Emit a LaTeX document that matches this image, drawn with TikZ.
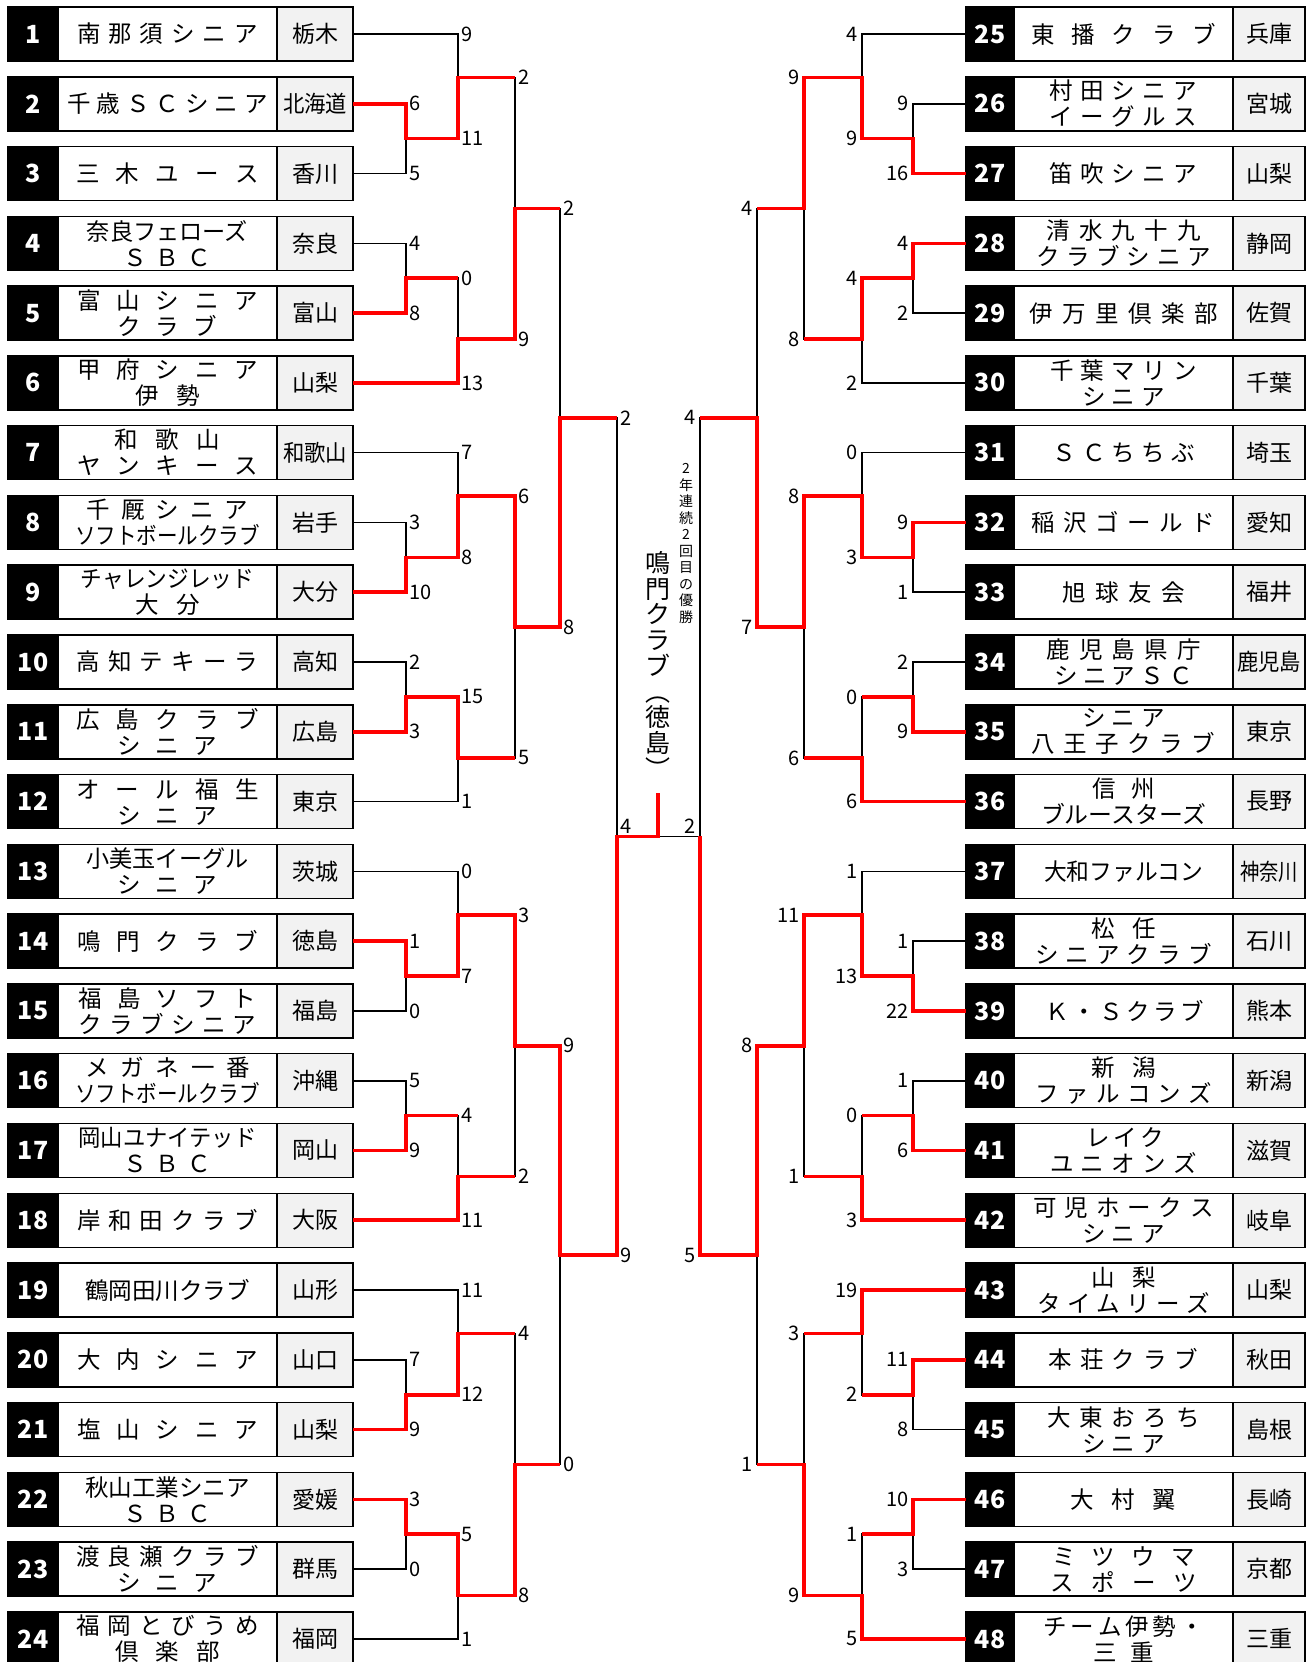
\documentclass[tikz,border=0pt]{standalone}
\usepackage{fontspec}
\usepackage{graphicx}
\setmainfont{Noto Sans CJK JP}
\usetikzlibrary{positioning}

\newcommand{\spread}[2]{\makebox[#1pt][s]{#2}}
\newcommand{\tight}[2]{\resizebox{#1pt}{\height}{#2}}

\tikzset{
  numbox/.style={draw, fill=black, text=white, minimum width=50pt, minimum height=54pt,
    inner sep=0pt, outer sep=0pt, line width=1.5pt, font=\fontsize{25}{25}\selectfont\bfseries},
  namebox/.style={draw, fill=white, minimum width=219pt, minimum height=54pt,
    inner sep=0pt, outer sep=0pt, line width=1.5pt, align=center,
    font=\fontsize{23.5}{26}\selectfont},
  prefbox/.style={draw, fill=black!5, minimum width=76pt, minimum height=54pt,
    inner sep=0pt, outer sep=0pt, line width=1.5pt, font=\fontsize{23}{23}\selectfont},
  wire/.style={line width=1.6pt},
  win/.style={red, line width=3.6pt},
  scL/.style={anchor=west, inner sep=0pt, xshift=3pt, font=\fontsize{20}{20}\selectfont},
  scR/.style={anchor=east, inner sep=0pt, xshift=-4pt, font=\fontsize{20}{20}\selectfont},
  sc/.style={scL}
}

\newcommand{\teamL}[3]{%
  \node[namebox] (n#1) at (167.5,#1) {#2};
  \node[numbox, left=0pt of n#1] (k#1) {#1};
  \node[prefbox, right=0pt of n#1] (p#1) {#3};}
\newcommand{\teamR}[3]{%
  \node[namebox] (n#1) at (1123.5,{#1-24}) {#2};
  \node[numbox, minimum width=48pt, left=0pt of n#1] (k#1) {#1};
  \node[prefbox, minimum width=72pt, right=0pt of n#1] (p#1) {#3};}
% one match: top in, bottom in, out, x, row, scores
\newcommand{\game}[7]{%
  \coordinate (#3) at (#4,#5);
  \draw[wire] (#1) -- (#1 -| #3) -- (#2 -| #3) -- (#2);
  \node[sc] at (#1 -| #3) {#6};
  \node[sc] at (#2 -| #3) {#7};}

\begin{document}
\begin{tikzpicture}[x=1pt, y=-69.78pt]
\useasboundingbox (0,0.51275) rectangle (1314,24.3305);

\teamL{1}{\spread{181}{南 那 須 シ ニ ア}}{栃木}
\teamL{2}{\spread{201}{千 歳 Ｓ Ｃ シ ニ ア}}{\tight{64}{北海道}}
\teamL{3}{\spread{183}{三 木 ユ ー ス}}{香川}
\teamL{4}{\tight{161}{奈良フェローズ}\\\spread{88}{Ｓ Ｂ Ｃ}}{奈良}
\teamL{5}{\spread{181}{富 山 シ ニ ア}\\\spread{100}{ク ラ ブ}}{富山}
\teamL{6}{\spread{181}{甲 府 シ ニ ア}\\\spread{65}{伊 勢}}{山梨}
\teamL{7}{\spread{106}{和 歌 山}\\\spread{181}{ヤ ン キ ー ス}}{\tight{64}{和歌山}}
\teamL{8}{\spread{162}{千 厩 シ ニ ア}\\\tight{185}{ソフトボールクラブ}}{岩手}
\teamL{9}{\tight{173}{チャレンジレッド}\\\spread{65}{大 分}}{大分}
\teamL{10}{\spread{182}{高 知 テ キ ー ラ}}{高知}
\teamL{11}{\spread{183}{広 島 ク ラ ブ}\\\spread{100}{シ ニ ア}}{広島}
\teamL{12}{\spread{183}{オ ー ル 福 生}\\\spread{100}{シ ニ ア}}{東京}
\teamL{13}{\tight{162}{小美玉イーグル}\\\spread{100}{シ ニ ア}}{茨城}
\teamL{14}{\spread{181}{鳴 門 ク ラ ブ}}{徳島}
\teamL{15}{\spread{178}{福 島 ソ フ ト}\\\spread{178}{ク ラ ブ シ ニ ア}}{福島}
\teamL{16}{\spread{165}{メ ガ ネ 一 番}\\\tight{185}{ソフトボールクラブ}}{沖縄}
\teamL{17}{\tight{178}{岡山ユナイテッド}\\\spread{88}{Ｓ Ｂ Ｃ}}{岡山}
\teamL{18}{\spread{181}{岸 和 田 ク ラ ブ}}{大阪}
\teamL{19}{\tight{165}{鶴岡田川クラブ}}{山形}
\teamL{20}{\spread{181}{大 内 シ ニ ア}}{山口}
\teamL{21}{\spread{181}{塩 山 シ ニ ア}}{山梨}
\teamL{22}{\tight{165}{秋山工業シニア}\\\spread{88}{Ｓ Ｂ Ｃ}}{愛媛}
\teamL{23}{\spread{183}{渡 良 瀬 ク ラ ブ}\\\spread{100}{シ ニ ア}}{群馬}
\teamL{24}{\spread{183}{福 岡 と び う め}\\\spread{105}{倶 楽 部}}{福岡}

\teamR{25}{\spread{185}{東 播 ク ラ ブ}}{兵庫}
\teamR{26}{\spread{148}{村 田 シ ニ ア}\\\spread{148}{イ ー グ ル ス}}{宮城}
\teamR{27}{\spread{148}{笛 吹 シ ニ ア}}{山梨}
\teamR{28}{\spread{154}{清 水 九 十 九}\\\spread{175}{ク ラ ブ シ ニ ア}}{静岡}
\teamR{29}{\spread{188}{伊 万 里 倶 楽 部}}{佐賀}
\teamR{30}{\spread{147}{千 葉 マ リ ン}\\\spread{83}{シ ニ ア}}{千葉}
\teamR{31}{\spread{142}{Ｓ Ｃ ち ち ぶ}}{埼玉}
\teamR{32}{\spread{184}{稲 沢 ゴ ー ル ド}}{愛知}
\teamR{33}{\spread{123}{旭 球 友 会}}{福井}
\teamR{34}{\spread{154}{鹿 児 島 県 庁}\\\spread{138}{シ ニ ア Ｓ Ｃ}}{\tight{64}{鹿児島}}
\teamR{35}{\spread{83}{シ ニ ア}\\\spread{184}{八 王 子 ク ラ ブ}}{東京}
\teamR{36}{\spread{63}{信 州}\\\tight{165}{ブルースターズ}}{長野}
\teamR{37}{\tight{159}{大和ファルコン}}{\tight{58}{神奈川}}
\teamR{38}{\spread{65}{松 任}\\\spread{176}{シ ニ ア ク ラ ブ}}{石川}
\teamR{39}{\spread{156}{Ｋ ・ Ｓ ク ラ ブ}}{熊本}
\teamR{40}{\spread{65}{新 潟}\\\spread{177}{フ ァ ル コ ン ズ}}{新潟}
\teamR{41}{\spread{75}{レ イ ク}\\\spread{147}{ユ ニ オ ン ズ}}{滋賀}
\teamR{42}{\spread{180}{可 児 ホ ー ク ス}\\\spread{83}{シ ニ ア}}{岐阜}
\teamR{43}{\spread{65}{山 梨}\\\spread{172}{タ イ ム リ ー ズ}}{山梨}
\teamR{44}{\spread{150}{本 荘 ク ラ ブ}}{秋田}
\teamR{45}{\spread{152}{大 東 お ろ ち}\\\spread{83}{シ ニ ア}}{島根}
\teamR{46}{\spread{106}{大 村 翼}}{長崎}
\teamR{47}{\spread{142}{ミ ツ ウ マ}\\\spread{147}{ス ポ ー ツ}}{京都}
\teamR{48}{\spread{160}{チ ー ム 伊 勢 ・}\\\spread{60}{三 重}}{三重}

% left half
\game{p2.east}{p3.east}{a1}{406}{2.5}{6}{5}
\game{p4.east}{p5.east}{a2}{406}{4.5}{4}{8}
\game{p8.east}{p9.east}{a3}{406}{8.5}{3}{10}
\game{p10.east}{p11.east}{a4}{406}{10.5}{2}{3}
\game{p14.east}{p15.east}{a5}{406}{14.5}{1}{0}
\game{p16.east}{p17.east}{a6}{406}{16.5}{5}{9}
\game{p20.east}{p21.east}{a7}{406}{20.5}{7}{9}
\game{p22.east}{p23.east}{a8}{406}{22.5}{3}{0}
\game{p1.east}{a1}{b1}{458}{1.625}{9}{11}
\game{a2}{p6.east}{b2}{458}{5.375}{0}{13}
\game{p7.east}{a3}{b3}{458}{7.625}{7}{8}
\game{a4}{p12.east}{b4}{458}{11.375}{15}{1}
\game{p13.east}{a5}{b5}{458}{13.625}{0}{7}
\game{a6}{p18.east}{b6}{458}{17.375}{4}{11}
\game{p19.east}{a7}{b7}{458}{19.625}{11}{12}
\game{a8}{p24.east}{b8}{458}{23.375}{5}{1}
\game{b1}{b2}{c1}{515}{3.5}{2}{9}
\game{b3}{b4}{c2}{515}{9.5}{6}{5}
\game{b5}{b6}{c3}{515}{15.5}{3}{2}
\game{b7}{b8}{c4}{515}{21.5}{4}{8}
\game{c1}{c2}{d1}{560}{6.5}{2}{8}
\game{c3}{c4}{d2}{560}{18.5}{9}{0}
\game{d1}{d2}{e1}{617}{12.5}{2}{9}

% right half
\tikzset{sc/.style={scR}}
\game{k26.west}{k27.west}{ra1}{913}{2.5}{9}{16}
\game{k28.west}{k29.west}{ra2}{913}{4.5}{4}{2}
\game{k32.west}{k33.west}{ra3}{913}{8.5}{9}{1}
\game{k34.west}{k35.west}{ra4}{913}{10.5}{2}{9}
\game{k38.west}{k39.west}{ra5}{913}{14.5}{1}{22}
\game{k40.west}{k41.west}{ra6}{913}{16.5}{1}{6}
\game{k44.west}{k45.west}{ra7}{913}{20.5}{11}{8}
\game{k46.west}{k47.west}{ra8}{913}{22.5}{10}{3}
\game{k25.west}{ra1}{rb1}{862}{1.625}{4}{9}
\game{ra2}{k30.west}{rb2}{862}{5.375}{4}{2}
\game{k31.west}{ra3}{rb3}{862}{7.625}{0}{3}
\game{ra4}{k36.west}{rb4}{862}{11.375}{0}{6}
\game{k37.west}{ra5}{rb5}{862}{13.625}{1}{13}
\game{ra6}{k42.west}{rb6}{862}{17.375}{0}{3}
\game{k43.west}{ra7}{rb7}{862}{19.625}{19}{2}
\game{ra8}{k48.west}{rb8}{862}{23.375}{1}{5}
\game{rb1}{rb2}{rc1}{804}{3.5}{9}{8}
\game{rb3}{rb4}{rc2}{804}{9.5}{8}{6}
\game{rb5}{rb6}{rc3}{804}{15.5}{11}{1}
\game{rb7}{rb8}{rc4}{804}{21.5}{3}{9}
\game{rc1}{rc2}{rd1}{757}{6.5}{4}{7}
\game{rc3}{rc4}{rd2}{757}{18.5}{8}{1}
\game{rd1}{rd2}{re1}{700}{12.5}{4}{5}

% final
\coordinate (fin) at (658,12.5);
\coordinate (champ) at (658,11.88);
\draw[wire] (e1) -- (re1);
\node[scL, anchor=south west, yshift=3pt] at (e1) {4};
\node[scR, anchor=south east, yshift=3pt] at (re1) {2};

% winners
\draw[win] (p2.east) -- (p2.east -| a1) -- (a1) -- (a1 -| b1) -- (b1) -- (b1 -| c1);
\draw[win] (p5.east) -- (p5.east -| a2) -- (a2) -- (a2 -| b2);
\draw[win] (p6.east) -- (p6.east -| b2) -- (b2) -- (b2 -| c1) -- (c1) -- (c1 -| d1);
\draw[win] (p9.east) -- (p9.east -| a3) -- (a3) -- (a3 -| b3) -- (b3) -- (b3 -| c2) -- (c2) -- (c2 -| d1) -- (d1) -- (d1 -| e1);
\draw[win] (p11.east) -- (p11.east -| a4) -- (a4) -- (a4 -| b4) -- (b4) -- (b4 -| c2);
\draw[win] (p14.east) -- (p14.east -| a5) -- (a5) -- (a5 -| b5) -- (b5) -- (b5 -| c3) -- (c3) -- (c3 -| d2) -- (d2) -- (d2 -| e1) -- (e1) -- (fin) -- (champ);
\draw[win] (p17.east) -- (p17.east -| a6) -- (a6) -- (a6 -| b6);
\draw[win] (p18.east) -- (p18.east -| b6) -- (b6) -- (b6 -| c3);
\draw[win] (p21.east) -- (p21.east -| a7) -- (a7) -- (a7 -| b7) -- (b7) -- (b7 -| c4);
\draw[win] (p22.east) -- (p22.east -| a8) -- (a8) -- (a8 -| b8) -- (b8) -- (b8 -| c4) -- (c4) -- (c4 -| d2);

\draw[win] (k27.west) -- (k27.west -| ra1) -- (ra1) -- (ra1 -| rb1) -- (rb1) -- (rb1 -| rc1) -- (rc1) -- (rc1 -| rd1);
\draw[win] (k28.west) -- (k28.west -| ra2) -- (ra2) -- (ra2 -| rb2) -- (rb2) -- (rb2 -| rc1);
\draw[win] (k32.west) -- (k32.west -| ra3) -- (ra3) -- (ra3 -| rb3) -- (rb3) -- (rb3 -| rc2) -- (rc2) -- (rc2 -| rd1) -- (rd1) -- (rd1 -| re1);
\draw[win] (k35.west) -- (k35.west -| ra4) -- (ra4) -- (ra4 -| rb4);
\draw[win] (k36.west) -- (k36.west -| rb4) -- (rb4) -- (rb4 -| rc2);
\draw[win] (k39.west) -- (k39.west -| ra5) -- (ra5) -- (ra5 -| rb5) -- (rb5) -- (rb5 -| rc3) -- (rc3) -- (rc3 -| rd2) -- (rd2) -- (rd2 -| re1) -- (re1);
\draw[win] (k41.west) -- (k41.west -| ra6) -- (ra6) -- (ra6 -| rb6);
\draw[win] (k42.west) -- (k42.west -| rb6) -- (rb6) -- (rb6 -| rc3);
\draw[win] (k43.west) -- (k43.west -| rb7) -- (rb7) -- (rb7 -| rc4);
\draw[win] (k44.west) -- (k44.west -| ra7) -- (ra7) -- (ra7 -| rb7);
\draw[win] (k46.west) -- (k46.west -| ra8) -- (ra8) -- (ra8 -| rb8);
\draw[win] (k48.west) -- (k48.west -| rb8) -- (rb8) -- (rb8 -| rc4) -- (rc4) -- (rc4 -| rd2);

% champion
\node[font=\fontsize{14}{16.5}\selectfont, align=center, inner sep=0pt] (yusho) at (686,8.30)
  {2\\年\\連\\続\\2\\回\\目\\の\\優\\勝};
\node[font=\fontsize{25}{25.7}\selectfont, align=center, inner sep=0pt] (champname) at (658,10.04)
  {鳴\\門\\ク\\ラ\\ブ\\︵\\徳\\島\\︶};
\end{tikzpicture}
\end{document}
